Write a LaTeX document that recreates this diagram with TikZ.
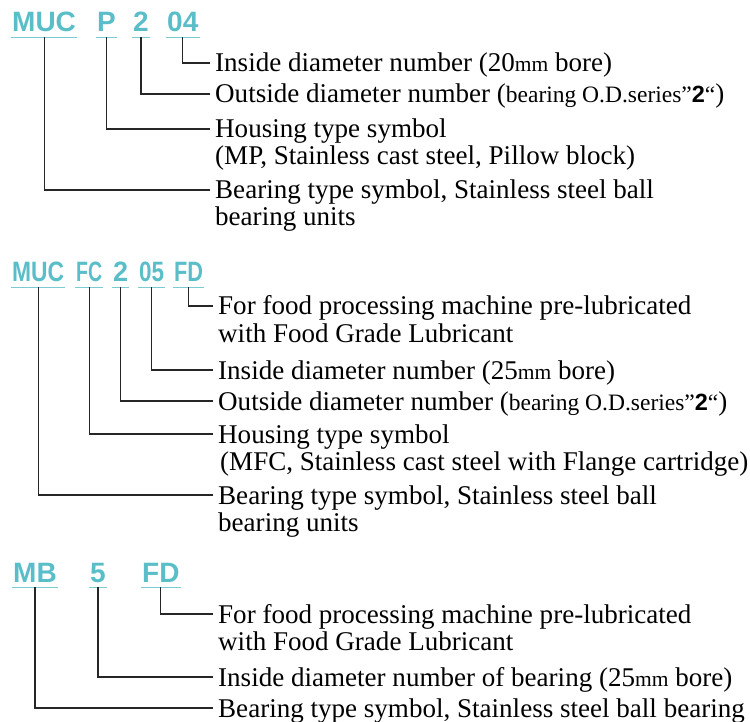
\documentclass[tikz,border=0pt]{standalone}
\usepackage{fontspec}
\setmainfont{Liberation Serif}
\setsansfont{Liberation Sans}
\usetikzlibrary{positioning}
\definecolor{codeteal}{RGB}{90,190,200}
\newcommand{\codew}[2]{\resizebox{#1pt}{\height}{#2}}
\newcommand{\mmu}{{\fontsize{21.5}{27}\selectfont mm}}
\newcommand{\odser}{\hspace{.25em}({\fontsize{23.5}{27}\selectfont bearing O.D.series”\textsf{\bfseries 2}“})}

\begin{document}
\begin{tikzpicture}[x=1pt,y=-1pt,
 code/.style={font=\fontsize{28}{30}\selectfont\sffamily\bfseries, text=codeteal, anchor=base west, inner xsep=1pt, inner ysep=5pt},
 txt/.style={font=\fontsize{27.05}{27}\selectfont, anchor=west, inner xsep=5pt, inner ysep=0pt, text height=22pt, text depth=4pt},
 ul/.style={codeteal!80, line width=1pt},
 lead/.style={black!85, line width=1.1pt}]
\useasboundingbox (0,0) rectangle (750,722);

% MUC P 2 04
\node[code] (muc1) at (11,32) {MUC};
\node[code] (p1) at (96,32) {P};
\node[code] (two1) at (132,32) {2};
\node[code] (id1) at (166,32) {04};
\foreach \n in {muc1,p1,two1,id1}
 \draw[ul] (\n.south west) -- (\n.south east);

\node[txt] (ins1) at (210,63) {Inside diameter number\hspace{.25em}(20\mmu{} bore)};
\node[txt] (out1) at (210,94) {Outside diameter number\odser};
\node[txt] (hous1a) at (210,129) {Housing type symbol};
\node[txt] (hous1b) at ([yshift=-27pt]hous1a.west) {(MP, Stainless cast steel, Pillow block)};
\node[txt] (bear1a) at (210,190) {Bearing type symbol, Stainless steel ball};
\node[txt] (bear1b) at ([yshift=-27pt]bear1a.west) {bearing units};

\draw[lead] (id1.south) |- (ins1.west);
\draw[lead] (two1.south) |- (out1.west);
\draw[lead] (p1.south) |- (hous1a.west);
\draw[lead] (muc1.south) |- (bear1a.west);

% MUC FC 2 05 FD
\node[code] (muc2) at (11,282) {\codew{52}{MUC}};
\node[code] (fc2) at (75,282) {\codew{26}{FC}};
\node[code] (two2) at (112,282) {\codew{15}{2}};
\node[code] (id2) at (138,282) {\codew{25}{05}};
\node[code] (fd2) at (173,282) {\codew{29}{FD}};
\foreach \n in {muc2,fc2,two2,id2,fd2}
 \draw[ul] (\n.south west) -- (\n.south east);

\node[txt] (fd2a) at (213,306) {For food processing machine pre-lubricated};
\node[txt] (fd2b) at ([yshift=-27pt]fd2a.west) {with Food Grade Lubricant};
\node[txt] (ins2) at (213,370) {Inside diameter number\hspace{.25em}(25\mmu{} bore)};
\node[txt] (out2) at (213,401) {Outside diameter number\odser};
\node[txt] (hous2a) at (213,434) {Housing type symbol};
\node[txt] (hous2b) at ([yshift=-27pt]hous2a.west) {\hspace{2pt}(MFC, Stainless cast steel with Flange cartridge)};
\node[txt] (bear2a) at (213,495) {Bearing type symbol, Stainless steel ball};
\node[txt] (bear2b) at ([yshift=-27pt]bear2a.west) {bearing units};

\draw[lead] (fd2.south) |- (fd2a.west);
\draw[lead] (id2.south) |- (ins2.west);
\draw[lead] (two2.south) |- (out2.west);
\draw[lead] (fc2.south) |- (hous2a.west);
\draw[lead] (muc2.south) |- (bear2a.west);

% MB 5 FD
\node[code] (mb3) at (12,582) {MB};
\node[code] (id3) at (89,582) {5};
\node[code] (fd3) at (141,582) {FD};
\foreach \n in {mb3,id3,fd3}
 \draw[ul] (\n.south west) -- (\n.south east);

\node[txt] (fd3a) at (213,614) {For food processing machine pre-lubricated};
\node[txt] (fd3b) at ([yshift=-27pt]fd3a.west) {with Food Grade Lubricant};
\node[txt] (ins3) at (213,677) {Inside diameter number of bearing\hspace{.25em}(25\mmu{} bore)};
\node[txt] (bear3) at (213,708) {Bearing type symbol, Stainless steel ball bearing};

\draw[lead] (fd3.south) |- (fd3a.west);
\draw[lead] (id3.south) |- (ins3.west);
\draw[lead] (mb3.south) |- (bear3.west);
\end{tikzpicture}
\end{document}
